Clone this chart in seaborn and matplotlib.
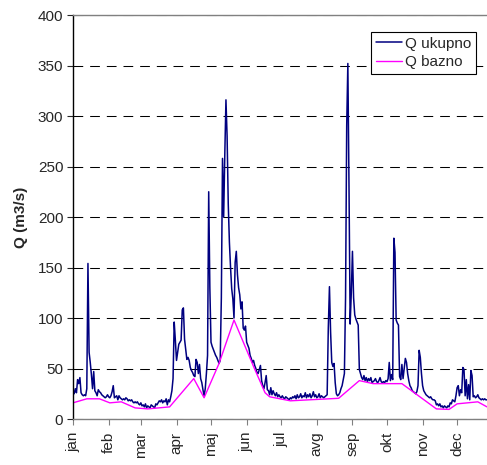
import numpy as np
import pandas as pd
import matplotlib
matplotlib.use("Agg")
import matplotlib.pyplot as plt
import seaborn as sns

months = ['jan', 'feb', 'mar', 'apr', 'maj', 'jun', 'jul', 'avg', 'sep', 'okt', 'nov', 'dec']
month_start = [0, 31, 59, 90, 120, 151, 181, 212, 243, 273, 304, 334]

# daily total discharge (m3/s), day 0 = 1 jan
q_ukupno = [
    27, 25, 30, 26, 39, 35, 41, 26, 24, 23,      # 0-9
    24, 23, 30, 154, 66, 56, 44, 30, 47, 28,     # 10-19
    26, 23, 29, 27, 26, 24, 23, 22, 21, 22,      # 20-29
    24, 22, 21, 23, 27, 33, 21, 22, 23, 19,      # 30-39
    23, 21, 20, 19, 20, 19, 21, 20, 18, 19,      # 40-49
    18, 19, 17, 16, 17, 16, 17, 15, 14, 16,      # 50-59
    13, 14, 12, 15, 11, 13, 12, 11, 14, 13,      # 60-69
    12, 11, 15, 14, 16, 18, 17, 19, 16, 18,      # 70-79
    17, 20, 14, 19, 17, 22, 28, 40, 96, 78,      # 80-89
    58, 66, 74, 76, 78, 108, 110, 79, 69, 59,    # 90-99
    61, 58, 51, 48, 46, 43, 42, 59, 56, 45,      # 100-109
    54, 40, 36, 29, 23, 30, 45, 63, 225, 130,    # 110-119
    76, 72, 69, 66, 63, 61, 58, 55, 58, 120,     # 120-129
    258, 200, 262, 316, 280, 213, 175, 150, 129, 119,  # 130-139
    100, 155, 166, 143, 130, 123, 109, 116, 90, 88,    # 140-149
    92, 76, 73, 70, 63, 60, 56, 58, 53, 50,      # 150-159
    46, 45, 49, 53, 38, 33, 30, 36, 43, 29,      # 160-169
    28, 24, 31, 24, 28, 25, 23, 26, 22, 24,      # 170-179
    22, 21, 23, 21, 20, 22, 21, 20, 19, 21,      # 180-189
    20, 22, 21, 23, 20, 24, 21, 22, 25, 21,      # 190-199
    23, 22, 26, 21, 24, 22, 25, 21, 23, 27,      # 200-209
    22, 24, 21, 22, 25, 21, 23, 22, 21, 22,      # 210-219
    23, 24, 90, 131, 86, 56, 52, 55, 36, 25,     # 220-229
    23, 24, 26, 30, 33, 39, 45, 120, 290, 352,   # 230-239
    230, 94, 125, 166, 120, 103, 99, 96, 93, 49, # 240-249
    45, 41, 39, 43, 38, 41, 37, 40, 38, 41,      # 250-259
    36, 37, 38, 40, 37, 36, 38, 41, 37, 36,      # 260-269
    37, 36, 38, 37, 40, 56, 38, 44, 39, 179,     # 270-279
    165, 98, 95, 93, 42, 39, 54, 40, 50, 60,     # 280-289
    56, 45, 38, 33, 31, 28, 27, 26, 25, 27,      # 290-299
    33, 68, 61, 45, 33, 28, 26, 24, 23, 22,      # 300-309
    21, 22, 20, 19, 19, 18, 14, 15, 13, 15,      # 310-319
    12, 13, 11, 13, 12, 11, 13, 12, 16, 15,      # 320-329
    19, 18, 17, 23, 31, 33, 23, 29, 26, 51,      # 330-339
    49, 23, 39, 20, 34, 19, 48, 43, 22, 23,      # 340-349
    21, 22, 24, 21, 20, 19, 20, 19, 20, 19, 19,  # 350-360
]

# baseflow break points
bazno_dan = [0, 12, 23, 32, 42, 54, 65, 84, 105, 114, 127, 140, 157, 167, 171,
             189, 231, 249, 261, 286, 316, 327, 334, 352, 360]
bazno_q = [16, 20, 20, 16, 17, 11, 10, 12, 40, 21, 55, 98, 52, 26, 22,
           18, 20.5, 38, 35, 35, 10, 9.5, 15, 17, 12]

sns.set_style('ticks')
plt.rcParams['font.family'] = ['Liberation Sans', 'DejaVu Sans']
plt.rcParams['font.size'] = 11
plt.rcParams['lines.scale_dashes'] = False

df = pd.DataFrame({'dan': np.arange(len(q_ukupno)), 'Q': q_ukupno})
df_b = pd.DataFrame({'dan': bazno_dan, 'Q': bazno_q})

fig = plt.figure(figsize=(4.87, 4.65), dpi=100)
ax = fig.add_axes([73 / 487, 46 / 465, 414 / 487, 404 / 465])

sns.lineplot(data=df, x='dan', y='Q', color='#000080', linewidth=1.1,
             label='Q ukupno', errorbar=None, ax=ax)
sns.lineplot(data=df_b, x='dan', y='Q', color='#ff00ff', linewidth=1.0,
             label='Q bazno', errorbar=None, ax=ax)

ax.set_xlim(0, 360)
ax.set_ylim(0, 400)
ax.set_yticks(range(0, 401, 50))
ax.yaxis.grid(True, color='black', linestyle=(0, (7, 5)), linewidth=0.75)
ax.set_axisbelow(True)

ax.set_xticks(month_start)
ax.set_xticklabels(months, rotation=90, va='top', ha='center')
ax.tick_params(axis='x', length=4, width=0.8, color='#808080', pad=5)
ax.tick_params(axis='y', length=4, width=0.8, pad=3)

ax.set_xlabel('')
ax.set_ylabel('Q (m3/s)', fontweight='bold', labelpad=7)

ax.spines['right'].set_visible(False)
ax.spines['top'].set_color('#808080')
ax.spines['bottom'].set_color('#808080')
ax.spines['left'].set_color('black')
for s in ['top', 'bottom', 'left']:
    ax.spines[s].set_linewidth(1.0)

leg = ax.legend(loc='upper right', bbox_to_anchor=(0.973, 0.958), borderaxespad=0,
                frameon=True, fancybox=False, edgecolor='black', framealpha=1,
                handlelength=1.7, handletextpad=0.2, borderpad=0.3, labelspacing=0.3)
leg.get_frame().set_linewidth(0.8)

fig.savefig('out.png', dpi=100)
